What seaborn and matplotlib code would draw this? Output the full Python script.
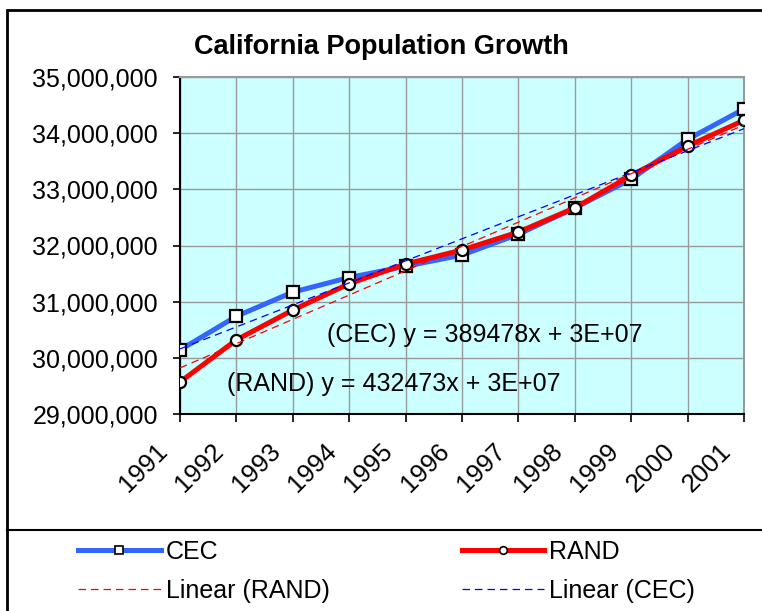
import numpy as np
import pandas as pd
import seaborn as sns
import matplotlib.pyplot as plt
import matplotlib.transforms as mtransforms
from matplotlib.lines import Line2D
from matplotlib.patches import Rectangle
from matplotlib.ticker import FuncFormatter, MultipleLocator

# population estimates
years = [1991, 1992, 1993, 1994, 1995, 1996, 1997, 1998, 1999, 2000, 2001]
cec = [30140000, 30740000, 31170000, 31430000, 31630000, 31830000,
       32200000, 32670000, 33180000, 33890000, 34430000]
rand = [29570000, 30320000, 30850000, 31320000, 31670000, 31920000,
        32240000, 32670000, 33250000, 33770000, 34230000]
eq_cec = "(CEC) y = 389478x + 3E+07"
eq_rand = "(RAND) y = 432473x + 3E+07"

df = pd.DataFrame({"year": years, "CEC": cec, "RAND": rand})

plt.rcParams['font.family'] = ['Liberation Sans', 'DejaVu Sans']

blue = "#3366FF"
red = "#FF0000"

W, H = 762, 611
fig = plt.figure(figsize=(W / 100, H / 100), dpi=100)
ax = fig.add_axes([180 / W, 1 - 414 / H, 564 / W, 337 / H])
ax.set_facecolor("#CCFFFF")

# data series
sns.lineplot(data=df, x="year", y="CEC", ax=ax, color=blue, lw=3.6,
             marker="s", markersize=8, markerfacecolor="white",
             markeredgecolor="black", markeredgewidth=1.6, zorder=3)
sns.lineplot(data=df, x="year", y="RAND", ax=ax, color=red, lw=3.6,
             marker="o", markersize=8, markerfacecolor="white",
             markeredgecolor="black", markeredgewidth=1.6, zorder=4)

# linear trendlines
sns.regplot(data=df, x="year", y="RAND", ax=ax, scatter=False, ci=None,
            line_kws={"color": red, "lw": 0.9, "ls": (0, (6, 4)), "zorder": 5})
sns.regplot(data=df, x="year", y="CEC", ax=ax, scatter=False, ci=None,
            line_kws={"color": "#0000FF", "lw": 0.9, "ls": (0, (6, 4)), "zorder": 5})

ax.set_xlim(1991, 2001)
ax.set_ylim(29000000, 35000000)
ax.xaxis.set_major_locator(MultipleLocator(1))
ax.yaxis.set_major_locator(MultipleLocator(1000000))
ax.yaxis.set_major_formatter(FuncFormatter(lambda v, p: f"{v:,.0f}"))
ax.set_xlabel("")
ax.set_ylabel("")

ax.grid(True, color="#999999", lw=1.0)
ax.set_axisbelow(True)
for s in ["top", "right"]:
    ax.spines[s].set_color("#999999")
    ax.spines[s].set_linewidth(1.5)
for s in ["left", "bottom"]:
    ax.spines[s].set_color("black")
    ax.spines[s].set_linewidth(1.5)

ax.tick_params(axis="y", labelsize=18, length=5, width=1.2, pad=11)
ax.tick_params(axis="x", labelsize=18.5, length=6, width=1.2, pad=12)
offset = mtransforms.ScaledTranslation(-8 / 100, 0, fig.dpi_scale_trans)
for lab in ax.get_xticklabels():
    lab.set_rotation(45)
    lab.set_ha("right")
    lab.set_transform(lab.get_transform() + offset)

ax.text(0.261, 0.235, eq_cec, transform=ax.transAxes, fontsize=18, va="center")
ax.text(0.083, 0.09, eq_rand, transform=ax.transAxes, fontsize=18, va="center")

fig.text(0.5, 1 - 47 / H, "California Population Growth", ha="center",
         va="center", fontsize=19.5, fontweight="bold")

# chart frame and legend separator
fig.patches.append(Rectangle((7 / W, -0.01), 1.0, 1 - 10 / H + 0.01,
                             transform=fig.transFigure, fill=False,
                             edgecolor="black", lw=2))
fig.lines.append(Line2D([7 / W, 1.0], [1 - 530 / H, 1 - 530 / H],
                        transform=fig.transFigure, color="black", lw=1.5))

handles = [
    Line2D([], [], color=blue, lw=3.6, marker="s", markersize=5.5,
           markerfacecolor="white", markeredgecolor="black", markeredgewidth=1.2),
    Line2D([], [], color=red, lw=0.9, ls=(0, (6, 4))),
    Line2D([], [], color=red, lw=3.6, marker="o", markersize=5.5,
           markerfacecolor="white", markeredgecolor="black", markeredgewidth=1.2),
    Line2D([], [], color="#0000FF", lw=0.9, ls=(0, (6, 4))),
]
labels = ["CEC", "Linear (RAND)", "RAND", "Linear (CEC)"]
fig.legend(handles, labels, ncol=2, loc="upper left",
           bbox_to_anchor=(78 / W, 1 - 540 / H), frameon=False, fontsize=18,
           handlelength=3.3, handletextpad=0.2, columnspacing=5.3,
           labelspacing=0.6, borderpad=0, borderaxespad=0)

fig.savefig("out.png", dpi=100)
